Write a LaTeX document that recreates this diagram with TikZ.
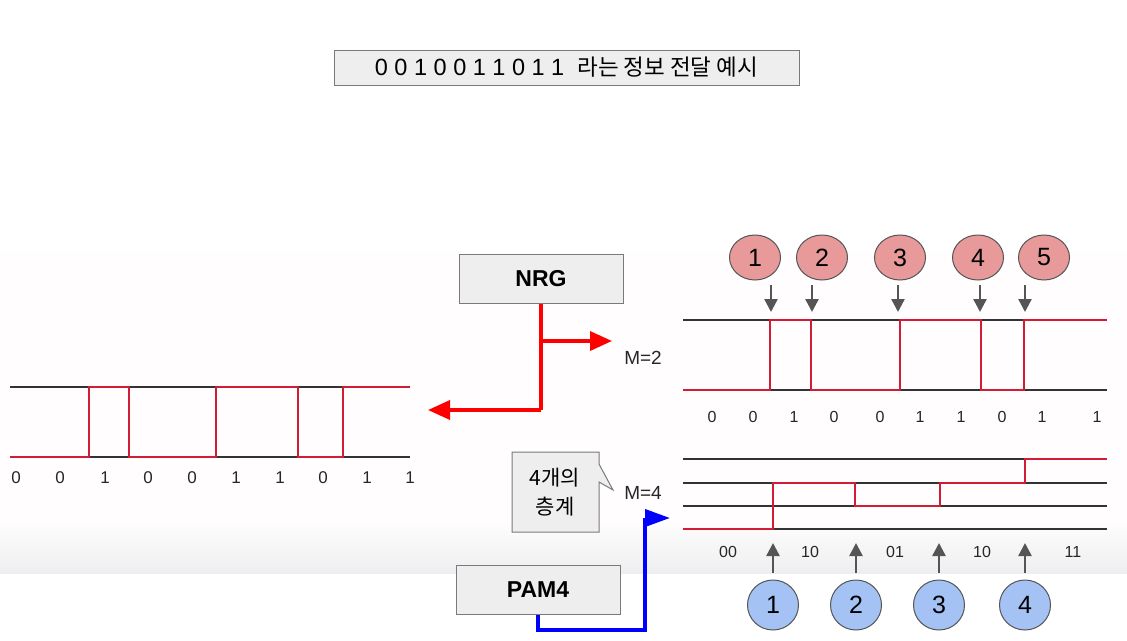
\documentclass[tikz,border=0pt]{standalone}
\usepackage{fontspec}
\setmainfont{Liberation Sans}
\newfontfamily\kr{Noto Sans CJK KR}
\usetikzlibrary{arrows.meta,shapes.geometric}
\definecolor{boxfill}{HTML}{EEEEEE}
\definecolor{boxline}{HTML}{7A7A7A}
\definecolor{wave}{RGB}{208,28,52}
\definecolor{axis}{HTML}{333333}
\definecolor{pinkc}{HTML}{E89A9A}
\definecolor{bluec}{HTML}{A4C2F4}
\definecolor{garrow}{HTML}{555555}
\definecolor{band}{HTML}{EEEEF0}
\tikzset{
  graybox/.style={draw=boxline, line width=1pt, fill=boxfill, inner sep=0pt},
  level/.style={draw=axis, line width=1.4pt},
  sig/.style={draw=wave, line width=2.7pt, line join=miter},
  bit/.style={font=\fontsize{17}{20}\selectfont, text=black!85},
  bitr/.style={font=\fontsize{16}{19}\selectfont, text=black!85},
  pinkbubble/.style={ellipse, draw=garrow, line width=1pt, fill=pinkc, minimum width=51pt, minimum height=45pt, inner sep=0pt, font=\fontsize{25}{28}\selectfont},
  bluebubble/.style={ellipse, draw=garrow, line width=1pt, fill=bluec, minimum width=51pt, minimum height=50pt, inner sep=0pt, font=\fontsize{25}{28}\selectfont},
  marker/.style={draw=garrow, line width=2.4pt, -{Triangle[length=13pt,width=13pt]}},
  redarrow/.style={draw=red, line width=3.5pt, -{Triangle[length=22pt,width=19pt]}},
  bluearrow/.style={draw=blue, line width=3.8pt, line join=miter, -{Triangle[length=25pt,width=17pt]}},
  mlabel/.style={font=\fontsize{19}{22}\selectfont, text=black!85},
}
\begin{document}
\begin{tikzpicture}[x=1pt,y=-1pt]
\useasboundingbox (0,0) rectangle (1127,640);
% background band
\fill[white!97!pink] (0,250) rectangle (1127,522);
\shade[top color=white!97!pink, bottom color=band] (0,521) rectangle (1127,573);

% title
\node[graybox, minimum width=465pt, minimum height=35pt, font=\fontsize{23.5}{27}\selectfont] (title) at (566.5,67.5)
  {0 0 1 0 0 1 1 0 1 1\ \ {\kr\fontsize{22.5}{27}\selectfont 라는 정보 전달 예시}};

% NRG box and arrows
\node[graybox, minimum width=164pt, minimum height=49pt, font=\bfseries\fontsize{23}{26}\selectfont] (nrg) at (541,278.5) {NRG};
\coordinate (nrgturn) at (541,410);
\coordinate (nrgbranch) at (541,341);
\coordinate (lefttip) at (428,410);
\coordinate (righttip) at (612,341);
\draw[draw=red, line width=3.5pt] (nrg.south) -- (nrgturn);
\draw[redarrow] (nrgturn) -- (lefttip);
\draw[redarrow] (nrgbranch) -- (righttip);

% left waveform
\draw[level] (10,387) -- (410,387);
\draw[level] (10,457) -- (410,457);
\draw[sig] (10,457) -- (89,457) -- (89,387) -- (129,387) -- (129,457) -- (216,457) -- (216,387) -- (298,387) -- (298,457) -- (343,457) -- (343,387) -- (410,387);
\foreach \x/\b [count=\i] in {16/0,60/0,105/1,148/0,192/0,236/1,280/1,323/0,367/1,410/1}
  \node[bit] (lb\i) at (\x,478) {\b};

% M=2
\node[mlabel] (m2) at (643,358) {M=2};
\draw[level] (683,320) -- (1107,320);
\draw[level] (683,390) -- (1107,390);
\draw[sig] (683,390) -- (770,390) -- (770,320) -- (811,320) -- (811,390) -- (900,390) -- (900,320) -- (981,320) -- (981,390) -- (1024,390) -- (1024,320) -- (1107,320);
\foreach \x/\b [count=\i] in {712/0,753/0,794/1,834/0,880/0,920/1,961/1,1002/0,1042/1,1097/1}
  \node[bitr] (rb\i) at (\x,417) {\b};
\foreach \cx/\ax/\n in {755/771/1,822/812/2,900/898/3,978/980/4,1044/1025/5}{
  \node[pinkbubble] (p\n) at (\cx,257.5) {\n};
  \coordinate (pa\n) at (\ax,285);
  \coordinate (pb\n) at (\ax,312);
  \draw[marker] (pa\n) -- (pb\n);
}

% callout
\draw[draw=boxline, line width=1pt, fill=boxfill] (512,452) -- (599,452) -- (599,464) -- (613,490) -- (599,482) -- (599,532) -- (512,532) -- cycle;
\node[font=\kr\fontsize{21}{29}\selectfont, align=center] (callout) at (555,492) {4개의\\층계};

% M=4
\node[mlabel] (m4) at (643,493) {M=4};
\foreach \y in {459,483,506,529}
  \draw[level] (683,\y) -- (1107,\y);
\draw[sig] (683,529) -- (773,529) -- (773,483) -- (855,483) -- (855,506) -- (940,506) -- (940,483) -- (1025,483) -- (1025,459) -- (1107,459);
\foreach \x/\b [count=\i] in {728/00,810/10,895/01,982/10,1073/11}
  \node[bitr] (sb\i) at (\x,552) {\b};
\foreach \cx/\n in {773/1,856/2,939/3,1025/4}{
  \node[bluebubble] (q\n) at (\cx,605) {\n};
  \coordinate (qa\n) at (\cx,573);
  \coordinate (qb\n) at (\cx,543);
  \draw[marker] (qa\n) -- (qb\n);
}

% PAM4 box and blue arrow
\node[graybox, minimum width=164pt, minimum height=49pt, font=\bfseries\fontsize{23}{26}\selectfont] (pam) at (538,589.5) {PAM4};
\coordinate (pb1c) at (538,630);
\coordinate (pb2c) at (645,630);
\coordinate (pb3c) at (645,518);
\coordinate (bluetip) at (670,518);
\draw[draw=blue, line width=3.8pt, line join=miter] (pam.south) -- (pb1c) -- (pb2c) -- (pb3c);
\draw[bluearrow] (pb3c) -- (bluetip);
\end{tikzpicture}
\end{document}
